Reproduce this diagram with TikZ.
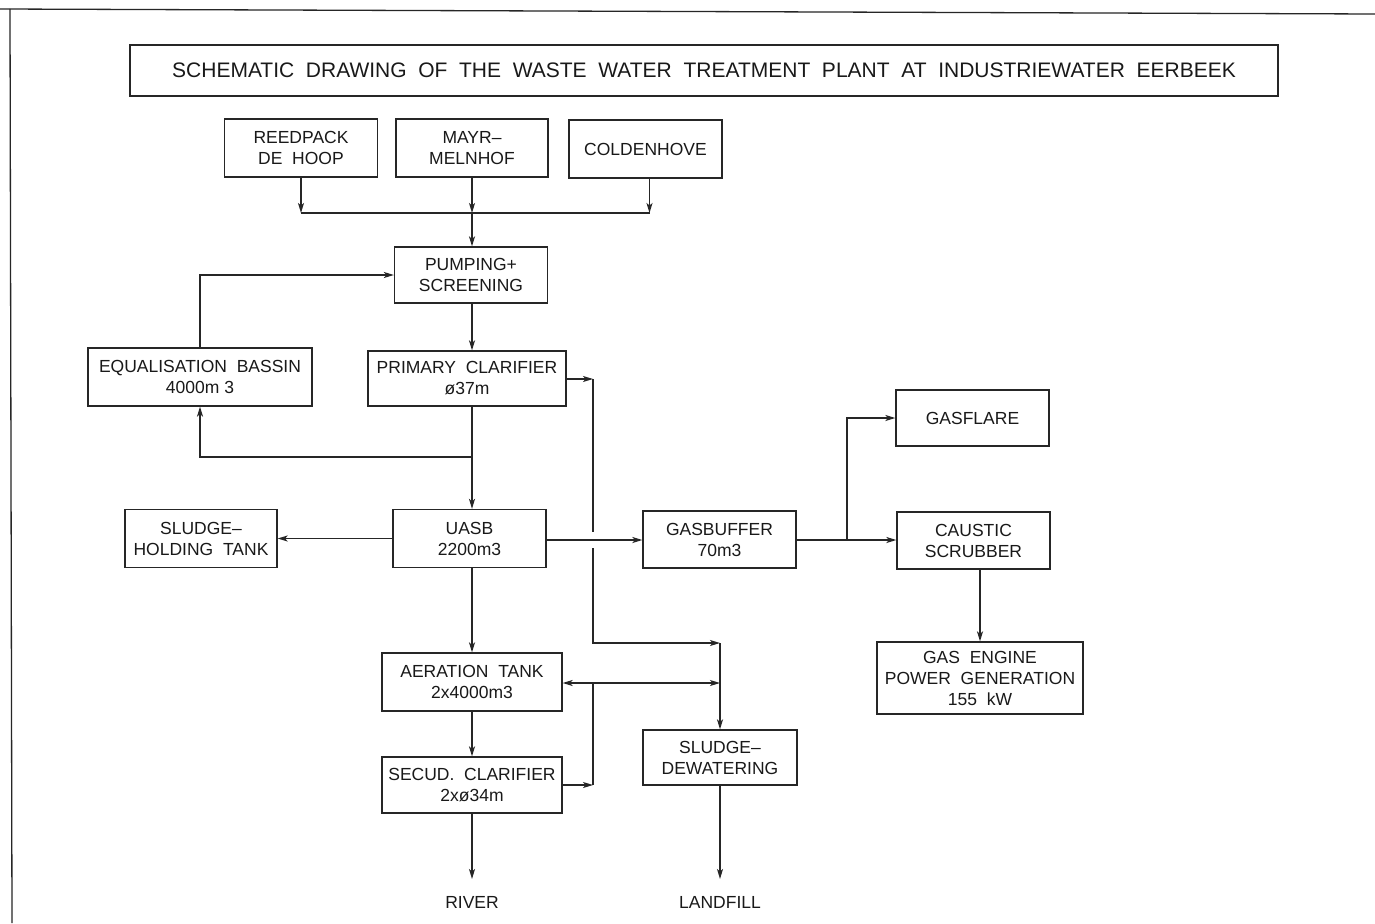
\documentclass[tikz,border=0pt]{standalone}
\usepackage{fontspec}
\setmainfont{Liberation Sans}
\usetikzlibrary{arrows.meta}
\begin{document}
\begin{tikzpicture}[x=1pt,y=-1pt,
  ln/.style={line width=1.3pt, draw=black!85},
  arr/.style={ln, -{Stealth[length=10pt,width=6pt,inset=2.5pt]}},
  box/.style={ln, rectangle, inner sep=0pt, align=center, text=black!90,
     font=\fontsize{17.5}{21}\selectfont},
  lbl/.style={inner sep=0pt, text=black!90, font=\fontsize{17.5}{21}\selectfont},
  titlebox/.style={ln, rectangle, inner sep=0pt, text=black!90,
     font=\fontsize{21}{24}\selectfont}]
\useasboundingbox (0,0) rectangle (1375,923);
\fill[white] (0,0) rectangle (1375,923);
% sheet frame
\draw[ln] (0,9) -- (1375,14);
\draw[ln] (10,9) -- (12,923);
% title
\node[titlebox, minimum width=1148, minimum height=51] (title) at (704,70.5)
  {SCHEMATIC \ DRAWING \ OF \ THE \ WASTE \ WATER \ TREATMENT \ PLANT \ AT \ INDUSTRIEWATER \ EERBEEK};
% boxes
\node[box, minimum width=153, minimum height=58] (reed) at (301,148) {REEDPACK\\DE \ HOOP};
\node[box, minimum width=152, minimum height=58] (mayr) at (472,148) {MAYR--\\MELNHOF};
\node[box, minimum width=153, minimum height=58] (cold) at (645.5,149) {COLDENHOVE};
\node[box, minimum width=153, minimum height=56] (pump) at (471,275) {PUMPING+\\SCREENING};
\node[box, minimum width=224, minimum height=58] (equal) at (200,377) {EQUALISATION \ BASSIN\\4000m 3};
\node[box, minimum width=198, minimum height=55] (prim) at (467,378.5) {PRIMARY \ CLARIFIER\\ø37m};
\node[box, minimum width=153, minimum height=58] (uasb) at (469.5,538.5) {UASB\\2200m3};
\node[box, minimum width=152, minimum height=58] (sht) at (201,538.5) {SLUDGE--\\HOLDING \ TANK};
\node[box, minimum width=153, minimum height=57] (gasb) at (719.5,539.5) {GASBUFFER\\70m3};
\node[box, minimum width=153, minimum height=56] (flare) at (972.5,418) {GASFLARE};
\node[box, minimum width=153, minimum height=57] (scrub) at (973.5,540.5) {CAUSTIC\\SCRUBBER};
\node[box, minimum width=206, minimum height=72] (engine) at (980,678) {GAS \ ENGINE\\POWER \ GENERATION\\155 \ kW};
\node[box, minimum width=180, minimum height=58] (aer) at (472,682) {AERATION \ TANK\\2x4000m3};
\node[box, minimum width=180, minimum height=56] (sec) at (472,785) {SECUD. \ CLARIFIER\\2xø34m};
\node[box, minimum width=154, minimum height=55] (dew) at (720,757.5) {SLUDGE--\\DEWATERING};
\node[lbl] (river) at (472,902) {RIVER};
\node[lbl] (landfill) at (720,902) {LANDFILL};
% junction coordinates
\coordinate (j1) at (472,213);
\coordinate (j2) at (472,457);
\coordinate (p1) at (593,379);
\coordinate (g1) at (593,532);
\coordinate (g2) at (593,548);
\coordinate (p2) at (593,643);
\coordinate (p3) at (720,643);
\coordinate (j3) at (847,540);
\coordinate (r1) at (593,785);
\coordinate (r2) at (593,683);
\coordinate (rv) at (472,879);
\coordinate (lf) at (720,879);
% connectors
\draw[arr] (reed.south) -- (reed.south |- j1);
\draw[arr] ([xshift=4]cold.south) -- ([xshift=4]cold.south |- j1);
\draw[ln] (reed.south |- j1) -- ([xshift=4]cold.south |- j1);
\draw[arr] (mayr.south) -- (j1);
\draw[arr] (j1) -- (j1 |- pump.north);
\draw[arr] (equal.north) |- (pump.west);
\draw[arr] (j1 |- pump.south) -- (j1 |- prim.north);
\draw[ln] (j1 |- prim.south) -- (j2);
\draw[arr] (j2) -- (j2 |- uasb.north);
\draw[arr] (j2) -| (equal.south);
\draw[arr] (prim.east |- p1) -- (p1);
\draw[ln] (p1) -- (g1);
\draw[arr] (g2) -- (p2) -- (p3);
\draw[arr] (p3) -- (dew.north);
\draw[arr] (uasb.west) -- (sht.east);
\draw[arr] (uasb.east |- j3) -- (gasb.west |- j3);
\draw[ln] (gasb.east |- j3) -- (j3);
\draw[arr] (j3) -- (scrub.west |- j3);
\draw[arr] (j3) |- (flare.west);
\draw[arr] (engine.north |- scrub.south) -- (engine.north);
\draw[arr] (j1 |- uasb.south) -- (j1 |- aer.north);
\draw[arr] (j1 |- aer.south) -- (j1 |- sec.north);
\draw[arr] (sec.east) -- (r1);
\draw[ln] (r1) -- (r2);
\draw[arr] (r2) -- (aer.east |- r2);
\draw[arr] (r2) -- (p3 |- r2);
\draw[arr] (j1 |- sec.south) -- (rv);
\draw[arr] (dew.south) -- (lf);
\end{tikzpicture}
\end{document}
